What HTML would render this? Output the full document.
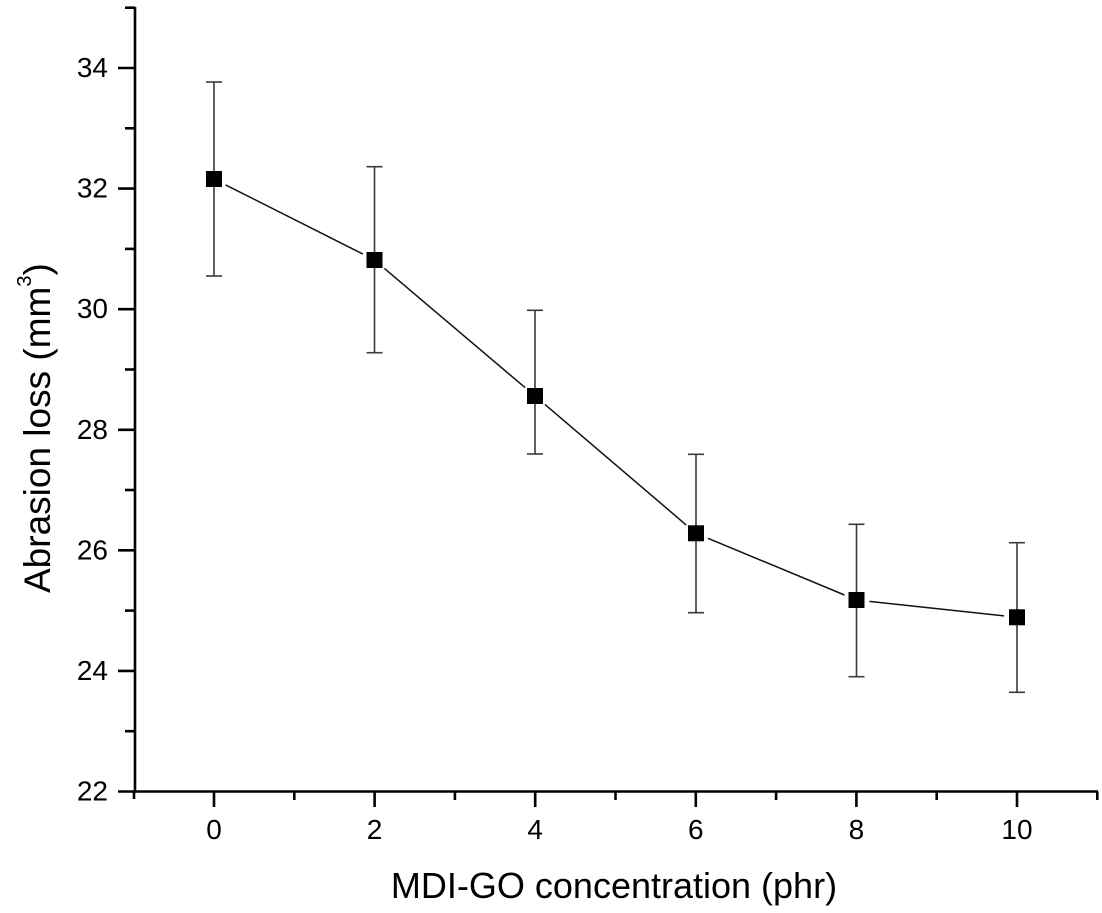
<!DOCTYPE html>
<html>
<head>
<meta charset="utf-8">
<style>
  html, body { margin: 0; padding: 0; background: #ffffff; }
  svg { display: block; }
  text { font-family: "Liberation Sans", Arial, sans-serif; fill: #000; }
</style>
</head>
<body>
<svg width="1102" height="913" viewBox="0 0 1102 913" xmlns="http://www.w3.org/2000/svg">
  <rect width="1102" height="913" fill="#ffffff"/>

  <!-- Axes -->
  <g stroke="#000" stroke-width="2.6" fill="none">
    <line x1="135" y1="7" x2="135" y2="792.8"/>
    <line x1="133.7" y1="791.5" x2="1098" y2="791.5"/>
    <!-- Y major ticks -->
    <line x1="118" y1="791.5" x2="135" y2="791.5"/>
    <line x1="118" y1="670.9" x2="135" y2="670.9"/>
    <line x1="118" y1="550.3" x2="135" y2="550.3"/>
    <line x1="118" y1="429.8" x2="135" y2="429.8"/>
    <line x1="118" y1="309.2" x2="135" y2="309.2"/>
    <line x1="118" y1="188.6" x2="135" y2="188.6"/>
    <line x1="118" y1="68" x2="135" y2="68"/>
    <!-- Y minor ticks -->
    <line x1="125" y1="731.2" x2="135" y2="731.2"/>
    <line x1="125" y1="610.6" x2="135" y2="610.6"/>
    <line x1="125" y1="490" x2="135" y2="490"/>
    <line x1="125" y1="369.5" x2="135" y2="369.5"/>
    <line x1="125" y1="248.9" x2="135" y2="248.9"/>
    <line x1="125" y1="128.3" x2="135" y2="128.3"/>
    <line x1="125" y1="7.7" x2="135" y2="7.7"/>
    <!-- X major ticks -->
    <line x1="214" y1="791.5" x2="214" y2="807"/>
    <line x1="374.6" y1="791.5" x2="374.6" y2="807"/>
    <line x1="535.2" y1="791.5" x2="535.2" y2="807"/>
    <line x1="695.8" y1="791.5" x2="695.8" y2="807"/>
    <line x1="856.4" y1="791.5" x2="856.4" y2="807"/>
    <line x1="1017" y1="791.5" x2="1017" y2="807"/>
    <!-- X minor ticks -->
    <line x1="134" y1="791.5" x2="134" y2="799"/>
    <line x1="294.3" y1="791.5" x2="294.3" y2="800"/>
    <line x1="454.9" y1="791.5" x2="454.9" y2="800"/>
    <line x1="615.5" y1="791.5" x2="615.5" y2="800"/>
    <line x1="776.1" y1="791.5" x2="776.1" y2="800"/>
    <line x1="936.7" y1="791.5" x2="936.7" y2="800"/>
    <line x1="1097.3" y1="791.5" x2="1097.3" y2="800"/>
  </g>

  <!-- Y tick labels -->
  <g font-size="28" text-anchor="end">
    <text x="108" y="800.5">22</text>
    <text x="108" y="679.9">24</text>
    <text x="108" y="559.3">26</text>
    <text x="108" y="438.8">28</text>
    <text x="108" y="318.2">30</text>
    <text x="108" y="197.6">32</text>
    <text x="108" y="77">34</text>
  </g>

  <!-- X tick labels -->
  <g font-size="28" text-anchor="middle">
    <text x="214" y="839">0</text>
    <text x="374.6" y="839">2</text>
    <text x="535.2" y="839">4</text>
    <text x="695.8" y="839">6</text>
    <text x="856.4" y="839">8</text>
    <text x="1017" y="839">10</text>
  </g>

  <!-- Axis titles -->
  <text x="614" y="898" font-size="36" text-anchor="middle">MDI-GO concentration (phr)</text>
  <text transform="translate(50,593) rotate(-90)" font-size="37">Abrasion loss (mm<tspan font-size="20" dy="-19">3</tspan><tspan dy="19">)</tspan></text>

  <!-- Error bars -->
  <g stroke="#3a3a3a" stroke-width="1.6" fill="none">
    <line x1="214" y1="82" x2="214" y2="276"/>
    <line x1="206" y1="82" x2="222" y2="82"/>
    <line x1="206" y1="276" x2="222" y2="276"/>

    <line x1="374.5" y1="166.7" x2="374.5" y2="352.7"/>
    <line x1="366.5" y1="166.7" x2="382.5" y2="166.7"/>
    <line x1="366.5" y1="352.7" x2="382.5" y2="352.7"/>

    <line x1="535" y1="310.3" x2="535" y2="454"/>
    <line x1="527" y1="310.3" x2="543" y2="310.3"/>
    <line x1="527" y1="454" x2="543" y2="454"/>

    <line x1="696" y1="454.3" x2="696" y2="612.7"/>
    <line x1="688" y1="454.3" x2="704" y2="454.3"/>
    <line x1="688" y1="612.7" x2="704" y2="612.7"/>

    <line x1="856.5" y1="524.3" x2="856.5" y2="676.7"/>
    <line x1="848.5" y1="524.3" x2="864.5" y2="524.3"/>
    <line x1="848.5" y1="676.7" x2="864.5" y2="676.7"/>

    <line x1="1017" y1="542.7" x2="1017" y2="692.3"/>
    <line x1="1009" y1="542.7" x2="1025" y2="542.7"/>
    <line x1="1009" y1="692.3" x2="1025" y2="692.3"/>
  </g>

  <!-- Connecting line segments (with gaps at markers) -->
  <g stroke="#111" stroke-width="1.5" fill="none">
    <line x1="225.6" y1="184.9" x2="362.9" y2="254.1"/>
    <line x1="384.4" y1="268.4" x2="525.1" y2="387.6"/>
    <line x1="544.9" y1="404.4" x2="686.1" y2="524.9"/>
    <line x1="708.0" y1="538.3" x2="844.5" y2="595.0"/>
    <line x1="869.4" y1="601.4" x2="1004.1" y2="615.9"/>
  </g>

  <!-- Markers -->
  <g fill="#000">
    <rect x="206" y="171" width="16" height="16"/>
    <rect x="366.5" y="252" width="16" height="16"/>
    <rect x="527" y="388" width="16" height="16"/>
    <rect x="688" y="525.3" width="16" height="16"/>
    <rect x="848.5" y="592" width="16" height="16"/>
    <rect x="1009" y="609.3" width="16" height="16"/>
  </g>
</svg>
</body>
</html>
